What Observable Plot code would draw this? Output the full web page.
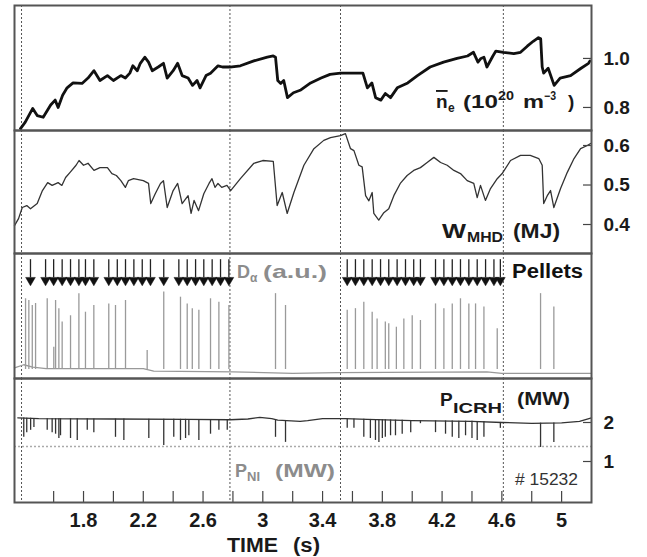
<!DOCTYPE html>
<html><head><meta charset="utf-8">
<script src="https://cdn.jsdelivr.net/npm/d3@7"></script>
<script src="https://cdn.jsdelivr.net/npm/@observablehq/plot@0.6"></script>
<style>
body{margin:0;background:#fff;}
#wrap{position:relative;width:647px;height:557px;overflow:hidden;background:#fff;}
</style></head><body><div id="wrap"></div>
<script>
// ---------- data ----------
const timeTicks = [1.8, 2.2, 2.6, 3, 3.4, 3.8, 4.2, 4.6, 5];
const minorTicks = [1.6,1.8,2.0,2.2,2.4,2.6,2.8,3.0,3.2,3.4,3.6,3.8,4.0,4.2,4.4,4.6,4.8,5.0];
const markerTimes = [1.385, 2.78, 3.52, 4.61];
const neTicks = [0.8, 1.0];
const wTicks = [0.4, 0.5, 0.6];
const pTicks = [1, 2];

// line-averaged density (1e20 m^-3): [time s, value]
const neSeries = [[1.378,0.714],[1.41,0.74],[1.46,0.796],[1.49,0.767],[1.53,0.76],[1.58,0.81],[1.61,0.83],[1.63,0.80],[1.66,0.85],[1.69,0.88],[1.73,0.90],[1.79,0.898],[1.83,0.92],[1.87,0.95],[1.91,0.91],[1.96,0.93],[2.0,0.91],[2.05,0.93],[2.08,0.92],[2.11,0.94],[2.13,0.97],[2.16,0.95],[2.18,0.98],[2.21,1.005],[2.235,0.985],[2.26,0.95],[2.30,0.965],[2.335,0.98],[2.36,0.92],[2.40,0.95],[2.43,0.98],[2.46,0.93],[2.50,0.92],[2.53,0.89],[2.56,0.91],[2.58,0.88],[2.62,0.93],[2.65,0.94],[2.70,0.97],[2.73,0.965],[2.78,0.965],[2.85,0.97],[2.94,0.99],[3.03,1.005],[3.07,1.01],[3.085,1.005],[3.10,0.91],[3.12,0.898],[3.14,0.91],[3.165,0.84],[3.205,0.86],[3.25,0.87],[3.32,0.90],[3.39,0.92],[3.45,0.935],[3.52,0.94],[3.61,0.94],[3.67,0.94],[3.70,0.88],[3.73,0.90],[3.755,0.84],[3.79,0.83],[3.82,0.857],[3.855,0.84],[3.90,0.88],[3.97,0.90],[4.035,0.93],[4.12,0.965],[4.21,0.985],[4.30,1.0],[4.37,1.01],[4.41,1.025],[4.44,0.985],[4.46,1.0],[4.48,1.005],[4.50,0.965],[4.54,1.01],[4.56,1.03],[4.61,1.025],[4.68,1.02],[4.725,1.025],[4.77,1.05],[4.81,1.07],[4.845,1.085],[4.86,1.08],[4.87,0.965],[4.88,0.94],[4.91,0.96],[4.95,0.89],[4.99,0.92],[5.06,0.93],[5.13,0.96],[5.18,0.98],[5.19,0.99]];

// stored energy W_MHD (MJ): [time s, value]
const wSeries = [[1.338,0.397],[1.365,0.415],[1.39,0.443],[1.42,0.448],[1.445,0.44],[1.49,0.453],[1.525,0.486],[1.56,0.506],[1.59,0.499],[1.63,0.506],[1.655,0.499],[1.68,0.519],[1.71,0.532],[1.75,0.55],[1.77,0.562],[1.80,0.55],[1.83,0.555],[1.87,0.537],[1.91,0.544],[1.96,0.544],[1.99,0.529],[2.02,0.524],[2.05,0.511],[2.08,0.494],[2.10,0.511],[2.135,0.516],[2.20,0.511],[2.235,0.504],[2.25,0.453],[2.28,0.478],[2.315,0.504],[2.335,0.511],[2.36,0.443],[2.40,0.486],[2.43,0.504],[2.46,0.453],[2.50,0.473],[2.52,0.428],[2.54,0.461],[2.57,0.435],[2.605,0.478],[2.64,0.504],[2.66,0.516],[2.68,0.494],[2.70,0.504],[2.725,0.494],[2.76,0.499],[2.785,0.486],[2.85,0.516],[2.94,0.555],[3.0,0.562],[3.07,0.56],[3.096,0.448],[3.13,0.481],[3.163,0.428],[3.208,0.481],[3.275,0.55],[3.342,0.592],[3.408,0.613],[3.453,0.62],[3.52,0.625],[3.553,0.63],[3.587,0.592],[3.61,0.587],[3.643,0.55],[3.665,0.546],[3.688,0.473],[3.71,0.46],[3.732,0.481],[3.743,0.428],[3.776,0.411],[3.81,0.43],[3.843,0.44],[3.877,0.473],[3.92,0.504],[3.966,0.524],[4.01,0.537],[4.055,0.544],[4.1,0.557],[4.145,0.57],[4.19,0.557],[4.234,0.55],[4.279,0.537],[4.323,0.529],[4.368,0.511],[4.412,0.504],[4.435,0.468],[4.457,0.499],[4.49,0.461],[4.524,0.491],[4.569,0.516],[4.602,0.529],[4.658,0.562],[4.725,0.575],[4.79,0.575],[4.847,0.567],[4.87,0.55],[4.88,0.453],[4.904,0.473],[4.926,0.486],[4.948,0.443],[4.993,0.491],[5.038,0.532],[5.083,0.567],[5.127,0.592],[5.172,0.6],[5.194,0.605]];

// D-alpha (a.u.): baseline and spikes [time s, peak]
const dAlphaBase = [[1.338,0.02],[1.40,0.06],[1.46,0.03],[1.55,0.01],[2.2,0.01],[2.27,-0.02],[2.8,-0.03],[3.2,-0.05],[3.5,-0.04],[4.5,-0.03],[4.6,-0.05],[5.2,-0.05]];
const dAlphaSpikes = [[1.412,0.895],[1.434,0.873],[1.457,0.81],[1.479,0.835],[1.557,0.895],[1.601,0.28],[1.613,0.873],[1.635,0.77],[1.657,0.6],[1.713,0.68],[1.769,0.96],[1.813,0.725],[1.869,0.81],[1.969,0.83],[2.014,0.81],[2.081,0.873],[2.226,0.24],[2.337,0.98],[2.449,0.915],[2.494,0.83],[2.528,0.77],[2.572,0.75],[2.65,0.895],[2.706,0.85],[2.773,0.81],[3.085,0.96],[3.152,0.81],[3.565,0.75],[3.62,0.77],[3.676,0.85],[3.732,0.725],[3.765,0.64],[3.82,0.6],[3.843,0.58],[3.894,0.535],[3.944,0.64],[4.0,0.68],[4.055,0.62],[4.156,0.83],[4.212,0.77],[4.268,0.83],[4.323,0.895],[4.379,0.83],[4.424,0.83],[4.48,0.79],[4.569,0.515],[4.859,0.96],[4.948,0.79]];

// pellet injection times (s)
const pelletTimes = [1.445,1.546,1.60,1.657,1.713,1.769,1.813,1.869,1.969,2.026,2.081,2.137,2.193,2.248,2.337,2.438,2.494,2.55,2.605,2.661,2.717,2.773,3.565,3.62,3.676,3.732,3.788,3.843,3.899,3.955,4.01,4.055,4.156,4.212,4.268,4.323,4.379,4.435,4.491,4.547,4.59];

// P_ICRH (MW): base level and dips [time s, min]
const icrhBase = [[1.36,2.12],[1.5,2.1],[2.0,2.09],[2.5,2.08],[2.78,2.07],[2.9,2.09],[2.98,2.13],[3.06,2.1],[3.1,2.06],[3.25,2.03],[3.3,2.05],[3.4,2.1],[3.55,2.1],[3.7,2.08],[4.0,2.05],[4.4,2.03],[4.6,2.0],[4.8,1.98],[5.0,1.99],[5.12,2.03],[5.2,2.12]];
const icrhDips = [[1.40,1.62],[1.42,1.74],[1.446,1.8],[1.468,1.87],[1.557,1.8],[1.59,1.74],[1.613,1.7],[1.635,1.59],[1.646,1.66],[1.713,1.59],[1.758,1.54],[1.825,1.8],[1.869,1.74],[2.014,1.62],[2.07,1.54],[2.237,1.59],[2.337,1.41],[2.404,1.62],[2.449,1.54],[2.483,1.59],[2.505,1.66],[2.572,1.54],[2.65,1.7],[2.706,1.8],[2.762,1.8],[3.085,1.62],[3.152,1.49],[3.565,1.85],[3.61,1.85],[3.676,1.62],[3.72,1.59],[3.754,1.54],[3.777,1.49],[3.80,1.59],[3.82,1.62],[3.855,1.66],[3.888,1.66],[3.933,1.7],[3.99,1.74],[4.055,1.97],[4.156,1.74],[4.223,1.7],[4.268,1.62],[4.312,1.59],[4.357,1.66],[4.40,1.59],[4.435,1.54],[4.48,1.62],[4.59,1.85],[4.859,1.36],[4.948,1.49]];
// P_NI (MW) level
const pniLevel = [1.385];

// ---------- layout ----------
const FONT = '"Liberation Sans", Arial, Helvetica, sans-serif';
const W = 647, ML = 14, MR = 56, INNER_W = W - ML - MR;
const xDomain = [1.338, 5.2];
const wrap = document.getElementById("wrap");
const icrhAt = t => {
  const xs = icrhBase.map(d => d[0]), ys = icrhBase.map(d => d[1]);
  return d3.scaleLinear().domain(xs).range(ys)(t);
};

function panel(top, h, yDomain, marks, mb = 0, xAxis = false, yAxis = true) {
  const chart = Plot.plot({
    width: W, height: h + mb,
    marginLeft: ML, marginRight: MR, marginTop: 0, marginBottom: mb,
    x: {domain: xDomain, ...(xAxis ? {} : {axis: null})},
    y: {domain: yDomain, ...(yAxis ? {} : {axis: null})},
    style: {overflow: "visible", fontFamily: FONT, fontSize: "19px", fontWeight: "bold", color: "#1a1a1a", background: "transparent"},
    marks: [
      Plot.ruleX(markerTimes, {x: d => d, stroke: "#555", strokeWidth: 1, strokeDasharray: "2,2"}),
      ...marks,
      Plot.frame({stroke: "#555", strokeWidth: 2})
    ]
  });
  chart.style.position = "absolute";
  chart.style.left = "0px";
  chart.style.top = top + "px";
  wrap.appendChild(chart);
}

const rightTicks = (vals, fmt) => [
  Plot.tickY(vals, {y: d => d, insetLeft: INNER_W - 8, stroke: "#444", strokeWidth: 1.2}),
  Plot.axisY(vals, {anchor: "right", tickSize: 0, tickPadding: 12, tickFormat: fmt, label: null})
];

// Panel 1: density
panel(5, 125, [0.706, 1.216], [
  Plot.line(neSeries, {x: d => d[0], y: d => d[1], stroke: "#111", strokeWidth: 2.8, strokeLinejoin: "round"}),
  ...rightTicks(neTicks, d => d.toFixed(1))
]);

// Panel 2: W_MHD
panel(130, 123, [0.3266, 0.638], [
  Plot.line(wSeries, {x: d => d[0], y: d => d[1], stroke: "#333", strokeWidth: 1.3}),
  ...rightTicks(wTicks, d => d.toFixed(1))
]);

// Panel 3: D-alpha and pellets (no y axis)
panel(253, 125, [-0.114, 1.468], [
  Plot.line(dAlphaBase, {x: d => d[0], y: d => d[1], stroke: "#999", strokeWidth: 1.3}),
  Plot.ruleX(dAlphaSpikes, {x: d => d[0], y1: 0, y2: d => d[1], stroke: "#9a9a9a", strokeWidth: 1.3}),
  Plot.ruleX(pelletTimes, {x: d => d, y1: 1.16, y2: 1.39, stroke: "#222", strokeWidth: 1.3}),
  Plot.dot(pelletTimes, {x: d => d, y: 1.13, symbol: "triangle", rotate: 180, r: 3.6, fill: "#111", stroke: "#111", strokeWidth: 0.5})
], 0, false, false);

// Panel 4: powers + time axis
panel(378, 124, [-0.051, 3.128], [
  Plot.ruleY(pniLevel, {y: d => d, stroke: "#aaa", strokeWidth: 1.5, strokeDasharray: "2,2"}),
  Plot.line(icrhBase, {x: d => d[0], y: d => d[1], stroke: "#333", strokeWidth: 1.3}),
  Plot.ruleX(icrhDips, {x: d => d[0], y1: d => icrhAt(d[0]), y2: d => d[1], stroke: "#333", strokeWidth: 1.3}),
  Plot.tickX(minorTicks, {x: d => d, insetTop: 124 - 11, stroke: "#444", strokeWidth: 1.2}),
  Plot.axisX(timeTicks, {anchor: "bottom", tickSize: 0, tickPadding: 10, tickFormat: d => String(d), label: null, fontSize: 20}),
  ...rightTicks(pTicks, d => String(d))
], 55, true);

// ---------- text labels (overlay) ----------
const labels = [
  // density label
  {x: 436, y: 108, s: 19, t: "n", deco: "overline"},
  {x: 448, y: 112, s: 12, t: "e"},
  {x: 463, y: 108, s: 19, t: "(10", len: 35},
  {x: 498, y: 100, s: 12, t: "20", len: 16},
  {x: 523, y: 108, s: 19, t: "m", len: 21},
  {x: 544, y: 100, s: 12, t: "−3", len: 12},
  {x: 568, y: 108, s: 19, t: ")"},
  // W_MHD
  {x: 442, y: 238, s: 20, t: "W", len: 24},
  {x: 467, y: 242, s: 14, t: "MHD", len: 36},
  {x: 513, y: 238, s: 20, t: "(MJ)", len: 47},
  // D-alpha
  {x: 237, y: 278, s: 18, t: "D", c: "#8c8c8c"},
  {x: 250, y: 282, s: 12, t: "α", c: "#8c8c8c"},
  {x: 263, y: 278, s: 19, t: "(a.u.)", len: 64, c: "#8c8c8c"},
  {x: 512, y: 278, s: 20, t: "Pellets", len: 71, c: "#111"},
  // P_ICRH
  {x: 440, y: 406, s: 19, t: "P"},
  {x: 453, y: 413, s: 14, t: "ICRH", len: 49},
  {x: 517, y: 405, s: 19, t: "(MW)", len: 53},
  // P_NI
  {x: 235, y: 477, s: 18, t: "P", c: "#8c8c8c"},
  {x: 247, y: 481, s: 13, t: "NI", len: 13, c: "#8c8c8c"},
  {x: 275, y: 477, s: 19, t: "(MW)", len: 60, c: "#8c8c8c"},
  // shot number
  {x: 515, y: 485, s: 17, t: "# 15232", len: 63, w: "normal", c: "#333"},
  // axis title
  {x: 227, y: 552, s: 20, t: "TIME", len: 51},
  {x: 293, y: 552, s: 20, t: "(s)", len: 27}
];
const ov = d3.create("svg").attr("width", W).attr("height", 557)
  .style("position", "absolute").style("left", "0px").style("top", "0px").style("pointer-events", "none");
for (const L of labels) {
  const tx = ov.append("text").attr("x", L.x).attr("y", L.y)
    .attr("font-family", FONT).attr("font-size", L.s).attr("font-weight", L.w || "bold")
    .attr("fill", L.c || "#1a1a1a").text(L.t);
  if (L.len) tx.attr("textLength", L.len).attr("lengthAdjust", "spacingAndGlyphs");
  if (L.deco) tx.style("text-decoration", L.deco);
}
wrap.appendChild(ov.node());
</script>
</body></html>
